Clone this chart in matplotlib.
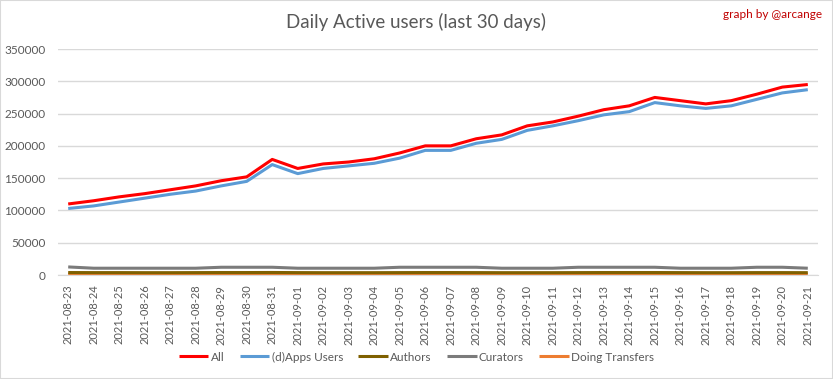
import matplotlib
matplotlib.use('Agg')
import matplotlib.pyplot as plt
from matplotlib.patches import Rectangle

plt.rcParams['font.family'] = ['Lato', 'DejaVu Sans']

dates = ['2021-08-23', '2021-08-24', '2021-08-25', '2021-08-26', '2021-08-27',
         '2021-08-28', '2021-08-29', '2021-08-30', '2021-08-31', '2021-09-01',
         '2021-09-02', '2021-09-03', '2021-09-04', '2021-09-05', '2021-09-06',
         '2021-09-07', '2021-09-08', '2021-09-09', '2021-09-10', '2021-09-11',
         '2021-09-12', '2021-09-13', '2021-09-14', '2021-09-15', '2021-09-16',
         '2021-09-17', '2021-09-18', '2021-09-19', '2021-09-20', '2021-09-21']

all_users = [110000, 115000, 121000, 126000, 132000, 138000, 146000, 152000, 179000, 165000,
             172000, 175000, 180000, 189000, 200000, 200000, 211000, 217000, 231000, 237000,
             246000, 256000, 262000, 275000, 270000, 265000, 270000, 280000, 291000, 295000]
dapps_users = [103000, 107000, 113000, 119000, 125000, 130000, 138000, 145000, 171000, 157000,
               165000, 169000, 173000, 181000, 193000, 193000, 204000, 210000, 224000, 231000,
               239000, 248000, 253000, 267000, 262000, 258000, 262000, 272000, 282000, 287000]
authors = [3800, 3700, 3700, 3600, 3600, 3700, 3800, 3800, 3900, 3700,
           3600, 3600, 3600, 3700, 3800, 3800, 3700, 3600, 3600, 3600,
           3700, 3800, 3800, 3800, 3700, 3600, 3600, 3700, 3700, 3600]
curators = [12500, 10500, 10500, 10500, 10500, 10500, 12000, 12000, 12000, 10500,
            10500, 10500, 10500, 12000, 12000, 12000, 12000, 10500, 10500, 10500,
            12000, 12000, 12000, 12000, 10500, 10500, 10500, 12000, 12000, 10500]
transfers = [1400, 1400, 1400, 1400, 1400, 1400, 1400, 1400, 1500, 1400,
             1400, 1400, 1400, 1400, 1400, 1400, 1400, 1400, 1400, 1400,
             1400, 1400, 1400, 1400, 1400, 1400, 1400, 1400, 1400, 1400]

series = [
    ('All', all_users, '#FF0000'),
    ('(d)Apps Users', dapps_users, '#5B9BD5'),
    ('Authors', authors, '#7F6000'),
    ('Curators', curators, '#7B7B7B'),
    ('Doing Transfers', transfers, '#ED7D31'),
]

fig = plt.figure(figsize=(8.33, 3.79), dpi=100)
ax = fig.add_axes([58 / 833, 1 - 275 / 379, 760 / 833, 226 / 379])

x = list(range(len(dates)))
# draw in reverse so "All" ends up on top
for name, vals, col in reversed(series):
    ax.plot(x, vals, color=col, lw=2.2, label=name, solid_capstyle='butt')

ax.set_xlim(-0.4, len(dates) - 0.6)
ax.set_ylim(0, 350000)
ax.set_yticks(range(0, 350001, 50000))
ax.set_xticks(x)
ax.set_xticklabels(dates, rotation=90)
ax.grid(axis='y', color='#D9D9D9', lw=1)
ax.set_axisbelow(True)
for s in ['top', 'right', 'left']:
    ax.spines[s].set_visible(False)
ax.spines['bottom'].set_color('#D9D9D9')
ax.tick_params(axis='both', length=0, labelsize=8.5, colors='#595959')
ax.tick_params(axis='y', pad=9)
ax.tick_params(axis='x', pad=7, labelsize=8)

fig.text(0.5, 1 - 22 / 379, 'Daily Active users (last 30 days)', ha='center', va='center',
         fontsize=13.5, color='#595959')
fig.text(822 / 833, 1 - 15 / 379, 'graph by @arcange', ha='right', va='center',
         fontsize=8.5, color='#C00000')

handles, labels = ax.get_legend_handles_labels()
leg = fig.legend(handles[::-1], labels[::-1], loc='center', ncol=5,
                 bbox_to_anchor=(0.5, 1 - 357 / 379), frameon=False,
                 fontsize=8.5, handlelength=2.5, columnspacing=1.3, handletextpad=0.2)
for t in leg.get_texts():
    t.set_color('#595959')

fig.patches.append(Rectangle((0, 0), 1, 1, transform=fig.transFigure, fill=False,
                             edgecolor='#D9D9D9', lw=1.5))

fig.savefig('out.png', dpi=100)
